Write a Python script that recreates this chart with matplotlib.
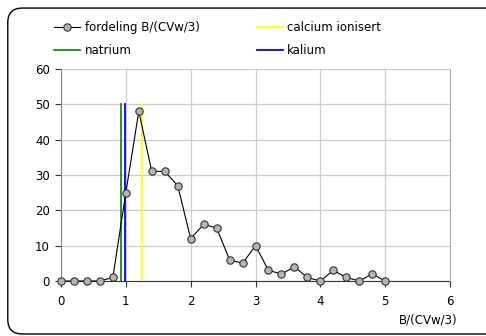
import matplotlib.pyplot as plt
from matplotlib.patches import FancyBboxPatch

# distribution of B/(CVw/3)
x_vals = [0.0, 0.2, 0.4, 0.6, 0.8, 1.0, 1.2, 1.4, 1.6, 1.8, 2.0, 2.2, 2.4,
          2.6, 2.8, 3.0, 3.2, 3.4, 3.6, 3.8, 4.0, 4.2, 4.4, 4.6, 4.8, 5.0]
fordeling = [0, 0, 0, 0, 1, 25, 48, 31, 31, 27, 12, 16, 15,
             6, 5, 10, 3, 2, 4, 1, 0, 3, 1, 0, 2, 0]

# reference lines for the ions
natrium_x = 0.93
kalium_x = 0.99
calcium_x = 1.25
line_top = 50

x_ticks = [0, 1, 2, 3, 4, 5, 6]
y_ticks = [0, 10, 20, 30, 40, 50, 60]

plt.rcParams['font.family'] = 'DejaVu Sans'
plt.rcParams['font.size'] = 8.5

fig = plt.figure(figsize=(4.86, 3.36), dpi=100)
ax = fig.add_axes([0.1255, 0.1637, 0.8005, 0.631])

# rounded frame round the whole chart
frame = FancyBboxPatch((0.016, 0.006), 1.1, 0.97, boxstyle="round,pad=0,rounding_size=0.03",
                       transform=fig.transFigure, fill=False, edgecolor='black',
                       linewidth=1.0, mutation_aspect=486 / 336)
fig.patches.append(frame)

l1, = ax.plot(x_vals, fordeling, color='black', linewidth=0.8, marker='o',
              markersize=5.3, markerfacecolor='#b4b4b4', markeredgecolor='#333333',
              markeredgewidth=0.8, label='fordeling B/(CVw/3)', zorder=4, clip_on=False)
l2, = ax.plot([natrium_x, natrium_x], [0, line_top], color='#1a8a1a', linewidth=1.3,
              label='natrium', zorder=3)
l3, = ax.plot([calcium_x, calcium_x], [0, line_top], color='#ffff00', linewidth=1.3,
              label='calcium ionisert', zorder=3)
l4, = ax.plot([kalium_x, kalium_x], [0, line_top], color='#0000ff', linewidth=1.3,
              label='kalium', zorder=3)

ax.set_xlim(0, 6)
ax.set_ylim(0, 60)
ax.set_xticks(x_ticks)
ax.set_yticks(y_ticks)
ax.grid(True, color='#cccccc', linewidth=0.9)
ax.set_axisbelow(True)

ax.spines['top'].set_visible(False)
ax.spines['right'].set_color('#aaaaaa')
ax.spines['left'].set_color('#888888')
ax.spines['bottom'].set_color('#333333')
ax.spines['bottom'].set_zorder(2)
ax.tick_params(axis='x', direction='out', length=4, color='#333333', pad=6)
ax.tick_params(axis='y', direction='out', length=4, color='#333333', pad=4)

ax.set_xlabel('B/(CVw/3)', fontsize=8.5)
ax.xaxis.set_label_coords(1.02, -0.155)
ax.xaxis.label.set_horizontalalignment('right')

fig.legend(handles=[l1, l2, l3, l4], ncol=2, loc='upper left',
           bbox_to_anchor=(0.09, 0.97), frameon=False, handlelength=2.2,
           handletextpad=0.4, columnspacing=4.8, labelspacing=0.9, fontsize=8.5)

fig.savefig('out.png', dpi=100)
